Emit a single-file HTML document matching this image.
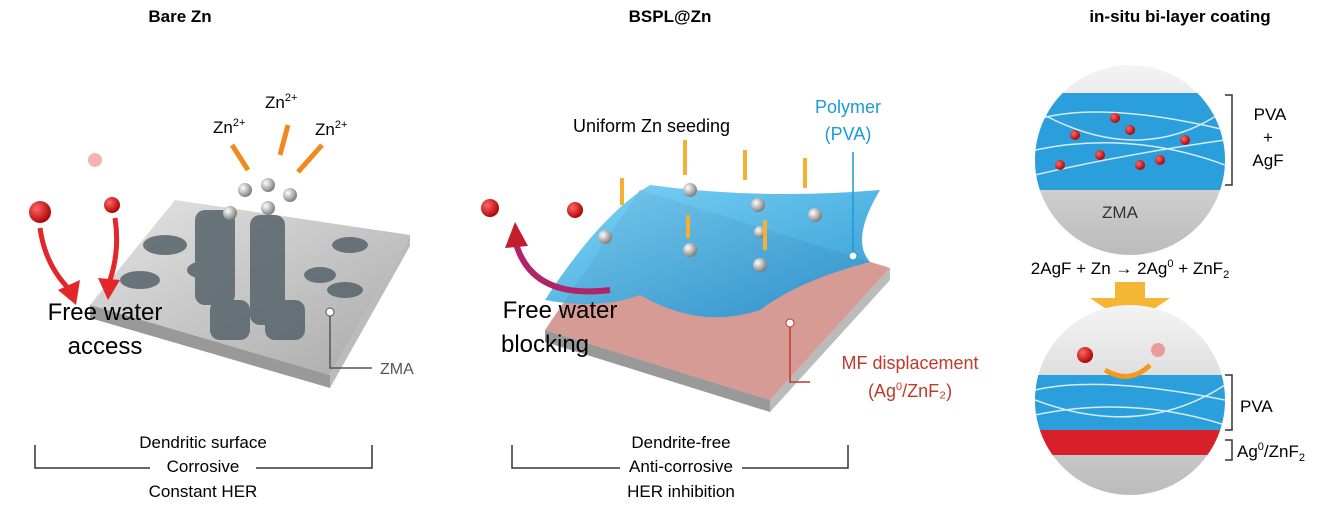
<!DOCTYPE html>
<html><head><meta charset="utf-8"><style>
body{margin:0;background:#fff;width:1328px;height:511px;overflow:hidden;font-family:"Liberation Sans",sans-serif}
</style></head><body>
<svg width="1328" height="511" viewBox="0 0 1328 511" xmlns="http://www.w3.org/2000/svg" font-family="Liberation Sans, sans-serif">
<defs>
<linearGradient id="slab" x1="0" y1="0" x2="1" y2="1"><stop offset="0" stop-color="#e4e4e4"/><stop offset="1" stop-color="#a9a9a9"/></linearGradient>
<radialGradient id="ball" cx="0.35" cy="0.35" r="0.7"><stop offset="0" stop-color="#fff"/><stop offset="1" stop-color="#777"/></radialGradient>
<radialGradient id="red" cx="0.35" cy="0.35" r="0.7"><stop offset="0" stop-color="#f66"/><stop offset="1" stop-color="#a00"/></radialGradient>
<linearGradient id="circ" x1="0" y1="0" x2="0" y2="1"><stop offset="0" stop-color="#f4f4f4"/><stop offset="1" stop-color="#bbb"/></linearGradient>
<linearGradient id="blue" x1="0" y1="0" x2="1" y2="1"><stop offset="0" stop-color="#6fd0f5"/><stop offset="1" stop-color="#1c8fd0"/></linearGradient>
<clipPath id="c1"><circle cx="1130" cy="160" r="95"/></clipPath>
<clipPath id="c2"><circle cx="1130" cy="400" r="95"/></clipPath>
</defs>
<text x="180" y="22" font-size="17" font-weight="bold" text-anchor="middle">Bare Zn</text>
<text x="670" y="22" font-size="17" font-weight="bold" text-anchor="middle">BSPL@Zn</text>
<text x="1180" y="22" font-size="17" font-weight="bold" text-anchor="middle">in-situ bi-layer coating</text>

<polygon points="90,305 175,200 410,235 330,375" fill="url(#slab)"/>
<polygon points="90,305 330,375 330,388 90,318" fill="#999"/>
<polygon points="330,375 410,235 410,246 330,388" fill="#bbb"/>
<g fill="#56646b" opacity="0.85">
<ellipse cx="165" cy="245" rx="22" ry="10"/><ellipse cx="140" cy="280" rx="20" ry="9"/><ellipse cx="205" cy="270" rx="18" ry="9"/>
<ellipse cx="350" cy="245" rx="18" ry="8"/><ellipse cx="320" cy="275" rx="16" ry="8"/><ellipse cx="345" cy="290" rx="18" ry="8"/>
<rect x="195" y="210" width="40" height="95" rx="10"/><rect x="250" y="215" width="35" height="110" rx="10"/><rect x="210" y="300" width="40" height="40" rx="10"/><rect x="265" y="300" width="40" height="40" rx="10"/>
</g>
<g fill="url(#ball)"><circle cx="245" cy="190" r="7"/><circle cx="268" cy="185" r="7"/><circle cx="290" cy="195" r="7"/><circle cx="230" cy="213" r="7"/><circle cx="268" cy="208" r="7"/></g>
<g stroke="#f08a1c" stroke-width="5" fill="none"><line x1="232" y1="145" x2="248" y2="170"/><line x1="288" y1="125" x2="280" y2="155"/><line x1="322" y1="145" x2="298" y2="172"/></g>
<text x="213" y="133" font-size="17">Zn<tspan font-size="11" dy="-7">2+</tspan></text>
<text x="265" y="108" font-size="17">Zn<tspan font-size="11" dy="-7">2+</tspan></text>
<text x="315" y="135" font-size="17">Zn<tspan font-size="11" dy="-7">2+</tspan></text>
<circle cx="40" cy="212" r="11" fill="url(#red)"/><circle cx="112" cy="205" r="8" fill="url(#red)"/><circle cx="95" cy="160" r="7" fill="#f3b3b3"/>
<g stroke="#e2262a" stroke-width="5" fill="none"><path d="M40 228 Q45 265 70 290"/><path d="M115 218 Q120 250 110 280"/></g>
<polygon points="58,290 80,280 76,305" fill="#e2262a"/><polygon points="98,278 120,280 108,300" fill="#e2262a"/>
<text x="105" y="320" font-size="24" text-anchor="middle">Free water</text>
<text x="105" y="354" font-size="24" text-anchor="middle">access</text>
<circle cx="330" cy="312" r="4" fill="#fff" stroke="#555"/>
<polyline points="330,316 330,368 372,368" fill="none" stroke="#555" stroke-width="1.5"/>
<text x="380" y="374" font-size="16" fill="#555">ZMA</text>

<polygon points="545,330 640,190 890,268 770,400" fill="#d59b94"/>
<polygon points="545,330 770,400 770,412 545,342" fill="#999"/>
<polygon points="770,400 890,268 890,280 770,412" fill="#bbb"/>
<path d="M545 300 Q600 215 650 185 Q760 200 880 190 Q850 240 870 262 Q800 280 760 310 Q700 330 640 295 Q600 310 545 300Z" fill="url(#blue)" opacity="0.9"/>
<g fill="url(#ball)"><circle cx="690" cy="190" r="7"/><circle cx="758" cy="205" r="7"/><circle cx="815" cy="215" r="7"/><circle cx="605" cy="237" r="7"/><circle cx="690" cy="250" r="7"/><circle cx="760" cy="265" r="7"/><circle cx="760" cy="232" r="6"/></g>
<g stroke="#f4b033" stroke-width="4"><line x1="622" y1="178" x2="622" y2="205"/><line x1="685" y1="140" x2="685" y2="175"/><line x1="745" y1="150" x2="745" y2="180"/><line x1="805" y1="158" x2="805" y2="188"/><line x1="688" y1="215" x2="688" y2="238"/><line x1="765" y1="220" x2="765" y2="250"/></g>
<text x="573" y="132" font-size="18">Uniform Zn seeding</text>
<text x="848" y="113" font-size="18" fill="#1a9ad7" text-anchor="middle">Polymer</text>
<text x="848" y="140" font-size="18" fill="#1a9ad7" text-anchor="middle">(PVA)</text>
<line x1="853" y1="152" x2="853" y2="252" stroke="#1a9ad7" stroke-width="1.5"/><circle cx="853" cy="256" r="4" fill="#fff" stroke="#1a9ad7"/>
<circle cx="490" cy="208" r="9" fill="url(#red)"/><circle cx="575" cy="210" r="8" fill="url(#red)"/>
<path d="M610 290 Q530 300 515 240" fill="none" stroke="#b0256a" stroke-width="6"/><polygon points="505,248 515,222 528,246" fill="#c21d2a"/>
<text x="560" y="318" font-size="24" text-anchor="middle">Free water</text>
<text x="545" y="352" font-size="24" text-anchor="middle">blocking</text>
<circle cx="790" cy="323" r="4" fill="#fff" stroke="#c0392b"/>
<polyline points="790,327 790,382 810,382" fill="none" stroke="#c0392b" stroke-width="1.5"/>
<text x="910" y="369" font-size="18" fill="#c0392b" text-anchor="middle">MF displacement</text>
<text x="910" y="397" font-size="18" fill="#c0392b" text-anchor="middle">(Ag<tspan font-size="11" dy="-7">0</tspan><tspan dy="7">/ZnF₂)</tspan></text>

<g stroke="#333" stroke-width="1.5" fill="none"><polyline points="35,445 35,468 150,468"/><polyline points="256,468 372,468 372,445"/><polyline points="512,445 512,468 620,468"/><polyline points="742,468 848,468 848,445"/></g>
<g font-size="17" text-anchor="middle"><text x="203" y="448">Dendritic surface</text><text x="203" y="472">Corrosive</text><text x="203" y="497">Constant HER</text>
<text x="681" y="448">Dendrite-free</text><text x="681" y="472">Anti-corrosive</text><text x="681" y="497">HER inhibition</text></g>

<circle cx="1130" cy="160" r="95" fill="url(#circ)"/>
<g clip-path="url(#c1)"><rect x="1030" y="93" width="200" height="97" fill="#2a9fdc"/>
<g stroke="#fff" stroke-width="1.5" opacity="0.8" fill="none"><path d="M1035 120 Q1100 100 1225 130"/><path d="M1035 150 Q1130 130 1225 165"/><path d="M1035 175 Q1120 155 1225 140"/><path d="M1035 110 Q1140 170 1225 110"/></g>
<g fill="url(#red)"><circle cx="1075" cy="135" r="5"/><circle cx="1100" cy="155" r="5"/><circle cx="1130" cy="130" r="5"/><circle cx="1160" cy="160" r="5"/><circle cx="1185" cy="140" r="5"/><circle cx="1060" cy="165" r="5"/><circle cx="1140" cy="165" r="5"/><circle cx="1115" cy="118" r="5"/></g></g>
<text x="1120" y="218" font-size="17" fill="#333" text-anchor="middle">ZMA</text>
<polyline points="1225,95 1232,95 1232,185 1225,185" fill="none" stroke="#333" stroke-width="1.5"/>
<g font-size="17" text-anchor="middle"><text x="1270" y="120">PVA</text><text x="1268" y="143">+</text><text x="1268" y="166">AgF</text></g>
<text x="1130" y="274" font-size="17" text-anchor="middle">2AgF + Zn → 2Ag<tspan font-size="11" dy="-7">0</tspan><tspan dy="7"> + ZnF</tspan><tspan font-size="11" dy="4">2</tspan></text>
<polygon points="1115,282 1145,282 1145,298 1170,298 1130,325 1090,298 1115,298" fill="#f4b633"/>
<circle cx="1130" cy="400" r="95" fill="url(#circ)"/>
<g clip-path="url(#c2)"><rect x="1030" y="375" width="200" height="55" fill="#2a9fdc"/>
<g stroke="#fff" stroke-width="1.5" opacity="0.8" fill="none"><path d="M1035 390 Q1100 375 1225 400"/><path d="M1035 415 Q1130 395 1225 425"/><path d="M1035 400 Q1140 440 1225 385"/></g>
<rect x="1030" y="430" width="200" height="25" fill="#d8202a"/></g>
<circle cx="1085" cy="355" r="8" fill="url(#red)"/><circle cx="1158" cy="350" r="7" fill="#e89c9c"/>
<path d="M1150 365 Q1130 385 1105 370" fill="none" stroke="#f39a1e" stroke-width="5"/>
<polyline points="1225,375 1232,375 1232,430 1225,430" fill="none" stroke="#333" stroke-width="1.5"/>
<polyline points="1225,440 1232,440 1232,460 1225,460" fill="none" stroke="#333" stroke-width="1.5"/>
<text x="1240" y="412" font-size="17">PVA</text>
<text x="1237" y="457" font-size="17">Ag<tspan font-size="11" dy="-7">0</tspan><tspan dy="7">/ZnF</tspan><tspan font-size="11" dy="4">2</tspan></text>
</svg>
</body></html>
